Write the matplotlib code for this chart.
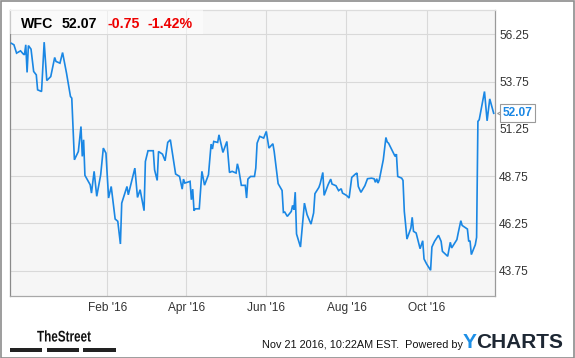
import numpy as np
import pandas as pd
import matplotlib
matplotlib.use("Agg")
import matplotlib.pyplot as plt
from matplotlib.patches import Rectangle, PathPatch
from matplotlib.textpath import TextPath
from matplotlib.font_manager import FontProperties
import matplotlib.transforms as mtransforms

# WFC closing prices (turning points)
dates = ["2015-11-20", "2015-11-22", "2015-11-24", "2015-11-27", "2015-11-29", "2015-11-30",
         "2015-12-01", "2015-12-02", "2015-12-03", "2015-12-05", "2015-12-07", "2015-12-09",
         "2015-12-10", "2015-12-13", "2015-12-15", "2015-12-17", "2015-12-20", "2015-12-23",
         "2015-12-24", "2015-12-27", "2015-12-29", "2016-01-01", "2016-01-04", "2016-01-05",
         "2016-01-07", "2016-01-10", "2016-01-12", "2016-01-13", "2016-01-14", "2016-01-15",
         "2016-01-19", "2016-01-20", "2016-01-22", "2016-01-24", "2016-01-27", "2016-01-29",
         "2016-01-31", "2016-02-02", "2016-02-04", "2016-02-07", "2016-02-09", "2016-02-11",
         "2016-02-12", "2016-02-16", "2016-02-17", "2016-02-22", "2016-02-24", "2016-02-26",
         "2016-02-29", "2016-03-01", "2016-03-03", "2016-03-07", "2016-03-08", "2016-03-10",
         "2016-03-11", "2016-03-14", "2016-03-16", "2016-03-18", "2016-03-20", "2016-03-24",
         "2016-03-27", "2016-03-29", "2016-03-30", "2016-03-31", "2016-04-04", "2016-04-05",
         "2016-04-06", "2016-04-07", "2016-04-08", "2016-04-11", "2016-04-13", "2016-04-15",
         "2016-04-18", "2016-04-20", "2016-04-21", "2016-04-22", "2016-04-25", "2016-04-26",
         "2016-04-29", "2016-05-02", "2016-05-04", "2016-05-06", "2016-05-09", "2016-05-10",
         "2016-05-11", "2016-05-13", "2016-05-16", "2016-05-17", "2016-05-18", "2016-05-20",
         "2016-05-23", "2016-05-24", "2016-05-25", "2016-05-27", "2016-05-30", "2016-06-01",
         "2016-06-03", "2016-06-06", "2016-06-07", "2016-06-10", "2016-06-13", "2016-06-14",
         "2016-06-15", "2016-06-17", "2016-06-20", "2016-06-21", "2016-06-22", "2016-06-23",
         "2016-06-24", "2016-06-27", "2016-06-30", "2016-07-02", "2016-07-05", "2016-07-07",
         "2016-07-08", "2016-07-11", "2016-07-12", "2016-07-14", "2016-07-15", "2016-07-18",
         "2016-07-20", "2016-07-21", "2016-07-24", "2016-07-26", "2016-07-28", "2016-07-29",
         "2016-08-01", "2016-08-03", "2016-08-05", "2016-08-08", "2016-08-09", "2016-08-10",
         "2016-08-12", "2016-08-15", "2016-08-17", "2016-08-20", "2016-08-22", "2016-08-23",
         "2016-08-24", "2016-08-25", "2016-08-26", "2016-08-29", "2016-08-31", "2016-09-01",
         "2016-09-02", "2016-09-06", "2016-09-07", "2016-09-08", "2016-09-09", "2016-09-12",
         "2016-09-13", "2016-09-14", "2016-09-15", "2016-09-16", "2016-09-19", "2016-09-20",
         "2016-09-21", "2016-09-23", "2016-09-26", "2016-09-28", "2016-09-29", "2016-10-01",
         "2016-10-04", "2016-10-05", "2016-10-07", "2016-10-10", "2016-10-12", "2016-10-13",
         "2016-10-17", "2016-10-19", "2016-10-20", "2016-10-24", "2016-10-25", "2016-10-27",
         "2016-10-28", "2016-10-31", "2016-11-01", "2016-11-02", "2016-11-03", "2016-11-04",
         "2016-11-07", "2016-11-08", "2016-11-09", "2016-11-10", "2016-11-14", "2016-11-16",
         "2016-11-18", "2016-11-21"]
prices = [55.77, 55.69, 55.25, 55.37, 55.21, 55.16,
          55.69, 54.23, 55.65, 55.46, 54.28, 54.10,
          53.31, 53.22, 55.83, 53.80, 54.01, 55.02,
          54.81, 54.72, 55.28, 54.19, 52.96, 52.87,
          49.61, 50.05, 51.37, 49.79, 50.67, 48.79,
          48.29, 47.85, 49.00, 47.68, 48.82, 50.23,
          49.96, 47.59, 48.20, 46.48, 46.36, 45.16,
          47.32, 48.20, 47.76, 49.17, 47.62, 48.03,
          46.92, 49.52, 50.09, 50.09, 49.08, 48.52,
          50.05, 49.91, 49.56, 50.53, 50.67, 48.86,
          48.73, 48.06, 48.59, 48.38, 48.47, 47.50,
          48.06, 46.92, 47.02, 47.02, 49.00, 48.27,
          48.82, 50.44, 50.18, 50.58, 50.53, 50.93,
          50.00, 50.58, 48.94, 49.00, 48.91, 49.40,
          49.12, 48.26, 48.26, 47.59, 48.59, 48.73,
          48.73, 49.17, 50.49, 50.85, 50.76, 51.11,
          50.23, 50.46, 50.05, 48.35, 47.99, 46.83,
          46.85, 46.62, 46.88, 47.20, 46.97, 47.90,
          45.69, 45.00, 47.32, 46.71, 46.21, 46.80,
          47.82, 48.15, 48.35, 48.94, 47.73, 48.29,
          48.59, 48.33, 48.24, 47.98, 48.08, 47.85,
          47.73, 47.59, 48.68, 48.87, 48.91, 48.20,
          47.89, 48.24, 48.61, 48.64, 48.61, 48.42,
          48.61, 48.38, 48.56, 49.61, 50.79, 50.55,
          50.49, 49.93, 49.79, 49.91, 48.73, 48.64,
          48.52, 46.88, 46.18, 45.42, 46.00, 46.57,
          45.83, 45.74, 44.91, 45.33, 44.37, 44.10,
          43.77, 45.00, 45.30, 45.62, 45.30, 44.77,
          44.51, 45.25, 44.95, 45.39, 45.74, 46.39,
          46.14, 46.00, 45.95, 45.30, 45.33, 44.60,
          45.12, 45.51, 51.64, 51.73, 53.22, 51.67,
          52.83, 52.07]

y_ticks = [43.75, 46.25, 48.75, 51.25, 53.75, 56.25]
x_tick_dates = ["2016-02-01", "2016-04-01", "2016-06-01", "2016-08-01", "2016-10-01"]
x_tick_labels = ["Feb '16", "Apr '16", "Jun '16", "Aug '16", "Oct '16"]

ticker = "WFC"
last_price = "52.07"
change = "-0.75"
change_pct = "-1.42%"
stamp = "Nov 21 2016, 10:22AM EST.  Powered by"

W, H = 575, 358
LINE = "#1a87e4"
plt.rcParams["font.family"] = "Liberation Sans"

fig = plt.figure(figsize=(W / 100, H / 100), dpi=100)
fig.patch.set_facecolor("white")


def px(x, y):
    # pixel position (top-left origin) -> figure fraction
    return x / W, 1 - y / H


ax = fig.add_axes([10 / W, 1 - 296 / H, 485 / W, 286 / H])
ax.set_facecolor("#f6f6f6")
x = pd.to_datetime(dates)
ax.plot(x, prices, color=LINE, lw=1.2, solid_joinstyle="miter", zorder=3)

ax.set_xlim(pd.Timestamp("2015-11-19"), pd.Timestamp("2016-11-22"))
ax.set_ylim(42.41, 57.53)
ax.set_xticks(pd.to_datetime(x_tick_dates))
ax.set_xticklabels(x_tick_labels)
ax.set_yticks(y_ticks)
ax.set_yticklabels(["%.2f" % v for v in y_ticks])
ax.yaxis.tick_right()
ax.tick_params(axis="both", length=0, labelsize=8.6, labelcolor="#333333")
ax.tick_params(axis="y", pad=3)
ax.tick_params(axis="x", pad=4)
ax.grid(True, color="#d9d9d9", lw=0.8, zorder=0)
ax.set_axisbelow(True)
for side, col in [("left", "#8a8a8a"), ("right", "#9a9a9a"), ("bottom", "#a8a8a8"), ("top", "#dcdcdc")]:
    ax.spines[side].set_color(col)
    ax.spines[side].set_linewidth(0.9)

# header box with quote
hx, hy = px(10, 34)
fig.patches.append(Rectangle((hx, hy), 193 / W, 24 / H, transform=fig.transFigure,
                             facecolor="white", alpha=0.55, edgecolor="none", zorder=5))
for tx, label, col in [(21, ticker, "black"), (62, last_price, "black"),
                       (107, change, "#ee0000"), (148, change_pct, "#ee0000")]:
    fig.text(*px(tx, 28), label, fontsize=10.2, fontweight="bold", color=col, va="baseline", zorder=6)

# last price tag on the right axis
tag_tr = mtransforms.blended_transform_factory(ax.transAxes, ax.transData)
ax.text(1.0464, prices[-1], last_price, transform=tag_tr, ha="center", va="center",
        fontsize=8.6, fontweight="bold", color=LINE, zorder=10, clip_on=False,
        bbox=dict(boxstyle="square,pad=0.25", fc="white", ec="#9a9a9a", lw=0.8))
ax.plot([1.0 + 6 / 485], [prices[-1]], transform=tag_tr, marker="<", ms=6, mfc="white",
        mec="#9a9a9a", mew=0.8, clip_on=False, zorder=9)

# footer: condensed "TheStreet" logo drawn as a squeezed text path
logo = TextPath((0, 0), "TheStreet", size=15.5, prop=FontProperties(family="Liberation Sans", weight="bold"))
logo_tr = mtransforms.Affine2D().scale(0.755, 1).translate(37, H - 341.5) + mtransforms.IdentityTransform()
fig.patches.append(PathPatch(logo, transform=logo_tr, facecolor="#111111", edgecolor="none"))
for bx0, bx1 in [(10, 42), (47, 79), (83, 116)]:
    fig.patches.append(Rectangle(px(bx0, 351.5), (bx1 - bx0) / W, 3.5 / H,
                                 transform=fig.transFigure, facecolor="#222222", edgecolor="none"))
fig.text(*px(262, 348), stamp, fontsize=7.8, color="#111111", va="baseline")
fig.text(*px(463, 348), "Y", fontsize=15, fontweight="bold", color="#1d8fe6", va="baseline")
fig.text(*px(476.5, 348), "CHARTS", fontsize=15, fontweight="bold", color="#1d2733", va="baseline")

# outer frame
fig.patches.append(Rectangle((0.5 / W, 0.5 / H), (W - 1.5) / W, (H - 1.5) / H, transform=fig.transFigure,
                             facecolor="none", edgecolor="#8c8c8c", lw=1.2))

fig.savefig("out.png", dpi=100)
